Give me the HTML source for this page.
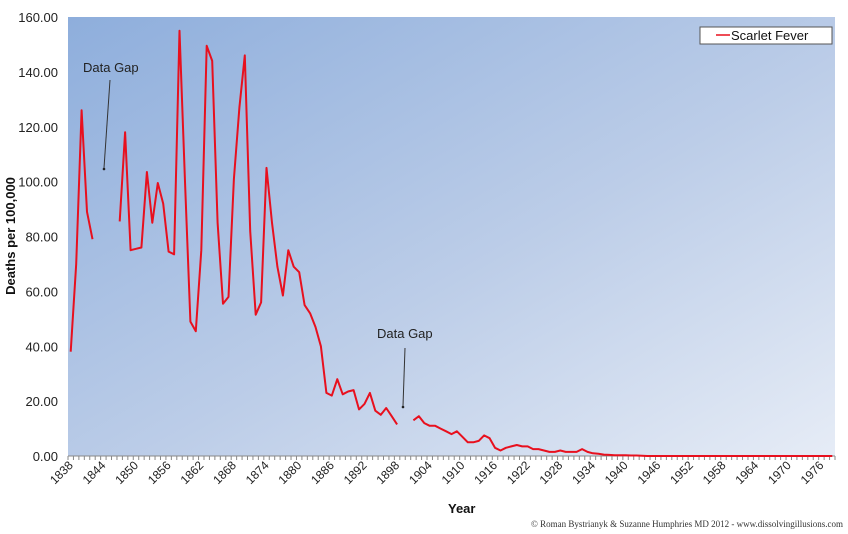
<!DOCTYPE html>
<html><head><meta charset="utf-8"><style>
body{margin:0;background:#fff;width:848px;height:534px;overflow:hidden}
svg{display:block;font-family:"Liberation Sans",sans-serif}
</style></head><body>
<svg id="s" width="848" height="534" xmlns="http://www.w3.org/2000/svg">
<defs><linearGradient id="g" x1="0" y1="0" x2="1" y2="1">
<stop offset="0" stop-color="#8eaedc"/><stop offset="0.55" stop-color="#bccde8"/><stop offset="1" stop-color="#e6ecf6"/></linearGradient></defs>
<rect x="68" y="17" width="767" height="439" fill="url(#g)"/>
<line x1="68" y1="456" x2="835" y2="456" stroke="#888" stroke-width="1"/>
<g id="ax"></g>
<path id="p" fill="none" stroke="#e8101e" stroke-width="2" stroke-linejoin="round"/>
<rect x="700" y="27" width="132" height="17" fill="#fff" stroke="#555" stroke-width="1"/>
<line x1="716" y1="35" x2="730" y2="35" stroke="#e8101e" stroke-width="1.5"/>
<text x="731" y="40" font-size="13" fill="#111">Scarlet Fever</text>
<text x="83" y="72" font-size="13" fill="#222">Data Gap</text>
<line x1="110" y1="80" x2="104" y2="168" stroke="#333" stroke-width="1"/>
<circle cx="104" cy="169" r="1.3" fill="#222"/>
<text x="377" y="338" font-size="13" fill="#222">Data Gap</text>
<line x1="405" y1="348" x2="403" y2="406" stroke="#333" stroke-width="1"/>
<circle cx="403" cy="407" r="1.3" fill="#222"/>
<text x="15" y="236" font-size="13" font-weight="bold" fill="#111" text-anchor="middle" transform="rotate(-90 15 236)">Deaths per 100,000</text>
<text x="448" y="513" font-size="13" font-weight="bold" fill="#111">Year</text>
<text x="843" y="527" font-size="9" fill="#333" text-anchor="end" font-family="Liberation Serif,serif">© Roman Bystrianyk &amp; Suzanne Humphries MD 2012 - www.dissolvingillusions.com</text>
</svg>
<script>
var N=141,x0=68,w=767/N,y0=456,k=439/160;
var d=[38,70,126,89,79,null,null,null,null,85.5,118,75,75.5,76,103.5,85,99.5,92,74.5,73.5,155,100,49,45.5,75,149.5,144,85,55.5,58,101,127,146,82,51.5,56,105,85,69,58.5,75,69,67,55,52,47,40,23,22,28,22.5,23.5,24,17,19,23,16.5,15,17.5,14.5,11.5,null,null,13,14.5,12,11,11,10,9,8,9,7,5,5,5.5,7.5,6.5,3,2,3,3.5,4,3.5,3.5,2.5,2.5,2,1.5,1.5,2,1.5,1.5,1.5,2.5,1.5,1,0.8,0.5,0.4,0.3,0.3,0.3,0.2,0.2,0.1];
while(d.length<N)d.push(0);
var s="",pen=false;
d.forEach(function(v,i){if(v===null){pen=false;return;}var x=x0+(i+0.5)*w,y=y0-v*k;s+=(pen?"L":"M")+x.toFixed(1)+" "+y.toFixed(1);pen=true;});
document.getElementById("p").setAttribute("d",s);
var g="";
for(var i=0;i<=N;i++){var x=x0+i*w;g+='<line x1="'+x+'" y1="456" x2="'+x+'" y2="460" stroke="#888"/>';}
for(var v=0;v<=160;v+=20){var y=y0-v*k;g+='<text x="58" y="'+(y+5)+'" font-size="13" fill="#222" text-anchor="end">'+v.toFixed(2)+'</text>';}
for(var yr=1838;yr<=1976;yr+=6){var x=x0+(yr-1838+0.5)*w+3,y=466;g+='<text x="'+x+'" y="'+y+'" font-size="12" fill="#222" text-anchor="end" transform="rotate(-45 '+x+' '+y+')">'+yr+'</text>';}
document.getElementById("ax").innerHTML=g;
</script>
</body></html>
